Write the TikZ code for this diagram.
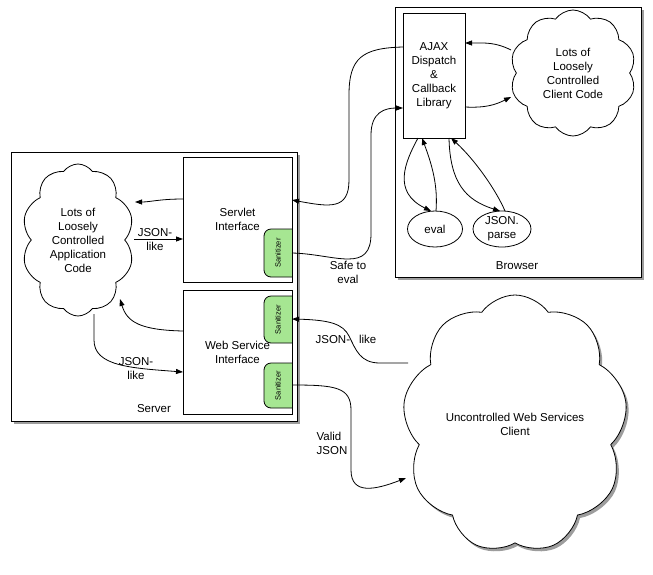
\documentclass[tikz,border=0pt]{standalone}
\usepackage{fontspec}
\setmainfont{Liberation Sans}
\usetikzlibrary{arrows.meta,shapes.symbols,shapes.geometric,shadows}
\definecolor{sangreen}{RGB}{166,230,146}
\begin{document}
\begin{tikzpicture}[x=1pt,y=-1pt,
  txt/.style={font=\fontsize{11.5}{14}\selectfont, align=center, inner sep=0pt},
  box/.style={draw, line width=0.9pt, rectangle, inner sep=0pt, outer sep=0pt},
  shad/.style={drop shadow={shadow xshift=2.5pt, shadow yshift=-3pt, opacity=0.55, fill=black!70}},
  cloudnode/.style={draw, line width=0.8pt, cloud, cloud puffs=10, cloud puff arc=110, cloud ignores aspect, fill=white, inner sep=0pt, outer sep=0pt, font=\fontsize{11.5}{14}\selectfont, align=center},
  conn/.style={line width=0.8pt, -{Triangle[length=7pt,width=5pt]}},
  sanshape/.style={draw, line width=0.8pt, fill=sangreen, rounded corners=7pt},
  santxt/.style={font=\fontsize{7.5}{8}\selectfont, rotate=90, inner sep=0pt},
  ell/.style={draw, ellipse, line width=0.8pt, fill=white, inner sep=0pt, outer sep=0pt, font=\fontsize{11.5}{14}\selectfont, align=center}
]
\useasboundingbox (0,0) rectangle (653,574);

% ---------- Server ----------
\node[box, fill=white, shad, minimum width=286pt, minimum height=269pt] (server) at (154,286.5) {};
\node[txt] (serverlbl) at (154,409) {Server};
\node[cloudnode, minimum width=112pt, minimum height=152pt] (app) at (78,240)
  {Lots of\\Loosely\\Controlled\\Application\\Code};

% sanitizers (shapes)
\filldraw[sanshape] (292,277) -- (264,277) -- (264,229) -- (292,229);
\filldraw[sanshape] (292,343) -- (264,343) -- (264,296) -- (292,296);
\filldraw[sanshape] (292,408) -- (264,408) -- (264,363) -- (292,363);
\node[santxt] (san1) at (278,253) {Sanitizer};
\node[santxt] (san2) at (278,319.5) {Sanitizer};
\node[santxt] (san3) at (278,385.5) {Sanitizer};

\node[box, minimum width=109pt, minimum height=125pt, txt] (servlet) at (237.5,219.5) {Servlet\\Interface};
\node[box, minimum width=109pt, minimum height=124pt, txt] (ws) at (237.5,352) {Web Service\\Interface};

% ---------- Browser ----------
\node[box, fill=white, shad, minimum width=246pt, minimum height=270pt] (browser) at (518,142) {};
\node[txt] (browserlbl) at (517,266) {Browser};
\node[box, fill=white, minimum width=62pt, minimum height=125pt, txt] (ajax) at (434,75.5)
  {AJAX\\Dispatch\\\&\\Callback\\Library};
\node[cloudnode, minimum width=126pt, minimum height=126pt] (client) at (573,73)
  {Lots of\\Loosely\\Controlled\\Client Code};
\node[ell, minimum width=55pt, minimum height=36pt] (eval) at (435,229) {eval};
\node[ell, minimum width=58pt, minimum height=36pt] (jparse) at (502,229) {JSON.\\parse};

% ---------- Web services client ----------
\node[cloudnode, shad, cloud puffs=9, minimum width=225pt, minimum height=258pt] (wsc) at (515,424)
  {Uncontrolled Web Services\\Client};

% ---------- Connectors ----------
\draw[conn] (ajax.west |- 0,47) .. controls (362,48) and (349,58) .. (349,95)
  -- (349,180) .. controls (349,210) and (330,207) .. (servlet.east |- 0,200);
\draw[conn] (servlet.east |- 0,253) .. controls (335,254) and (372,275) .. (371,232)
  -- (371,135) .. controls (371,112) and (385,108) .. (ajax.west |- 0,108);
\node[txt] (safe) at (348,272) {Safe to\\eval};
\draw[conn] (ajax.east |- 0,107) .. controls (485,108) and (495,105) .. (511,97);
\draw[conn] (511,50) .. controls (495,42) and (485,43) .. (ajax.east |- 0,43);

\draw[conn] (ajax.south -| 418,0) .. controls (405,162) and (392,192) .. (eval.north -| 431,0);
\draw[conn] (eval.north -| 436,0) .. controls (438,185) and (432,165) .. (ajax.south -| 422,0);
\draw[conn] (ajax.south -| 449,0) .. controls (450,182) and (465,200) .. (jparse.north -| 500,0);
\draw[conn] (jparse.north -| 505,0) .. controls (496,190) and (475,160) .. (ajax.south -| 451,0);

\draw[conn] (servlet.west |- 0,199) .. controls (160,199) and (150,202) .. (135,202);
\draw[conn] (134,239) -- (servlet.west |- 0,239);
\node[txt] (jl1) at (155,240) {JSON-\\like};
\draw[conn] (ws.west |- 0,331) .. controls (140,330) and (127,322) .. (120,299);
\draw[conn] (94,314) -- (94,340) .. controls (94,366) and (130,368) .. (ws.west |- 0,372);
\node[txt] (jl2) at (136,369) {JSON-\\like};

\draw[conn] (408,363) -- (380,363) .. controls (360,363) and (356,350) .. (349,336)
  .. controls (343,324) and (330,320) .. (ws.east |- 0,319);
\node[txt] (jl3) at (346,339) {JSON-\hspace{9pt}like};
\draw[conn] (ws.east |- 0,385) .. controls (335,385) and (351,387) .. (351,410)
  -- (351,470) .. controls (351,495) and (375,490) .. (406,478);
\node[txt, align=left] (vj) at (332,443) {Valid\\JSON};
\end{tikzpicture}
\end{document}
